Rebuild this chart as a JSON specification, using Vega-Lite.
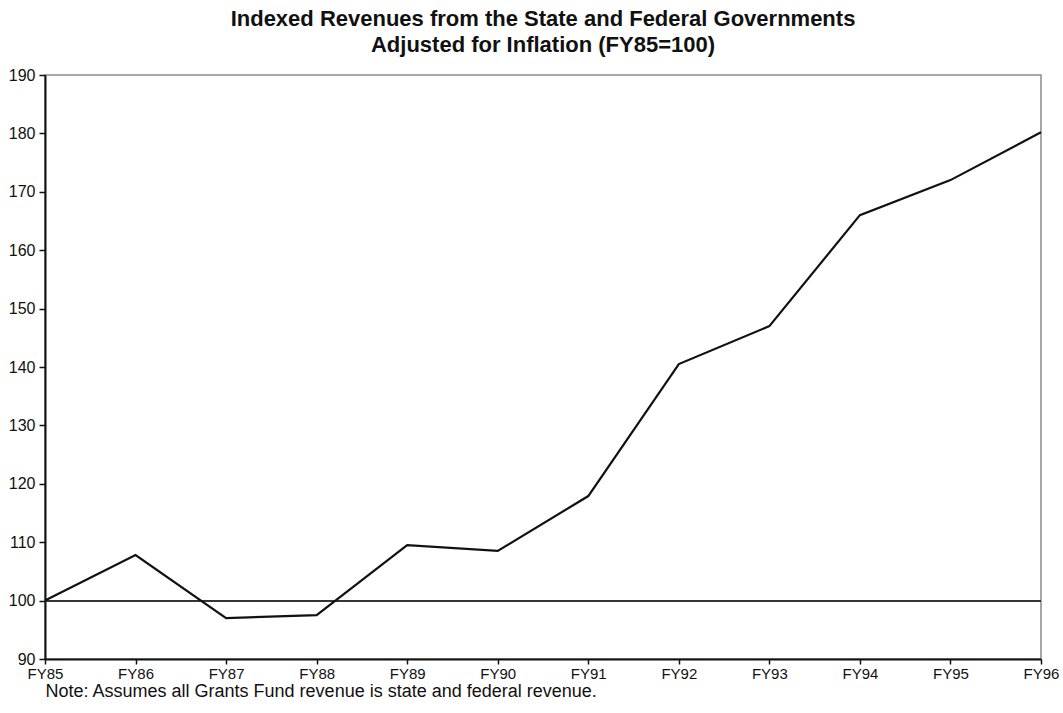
{
  "$schema": "https://vega.github.io/schema/vega-lite/v6.json",
  "width": 996,
  "height": 584,
  "autosize": {"type": "none"},
  "padding": {"left": 45, "top": 75, "right": 22, "bottom": 54},
  "background": "white",
  "config": {
    "font": "Liberation Sans",
    "view": {"stroke": "#8a8a8a", "strokeWidth": 1.5}
  },
  "title": {
    "text": ["Indexed Revenues from the State and Federal Governments", "Adjusted for Inflation (FY85=100)"],
    "anchor": "middle",
    "fontSize": 22,
    "fontWeight": "bold",
    "font": "Liberation Sans",
    "color": "#111",
    "lineHeight": 26,
    "offset": 10
  },
  "data": {
    "values": [
      {"year": "FY85", "index": 100.0},
      {"year": "FY86", "index": 107.8},
      {"year": "FY87", "index": 97.0},
      {"year": "FY88", "index": 97.5},
      {"year": "FY89", "index": 109.5},
      {"year": "FY90", "index": 108.5},
      {"year": "FY91", "index": 117.9},
      {"year": "FY92", "index": 140.5},
      {"year": "FY93", "index": 147.0},
      {"year": "FY94", "index": 166.0},
      {"year": "FY95", "index": 172.0},
      {"year": "FY96", "index": 180.2}
    ]
  },
  "layer": [
    {
      "mark": {"type": "rule", "color": "#333", "strokeWidth": 1.2},
      "encoding": {"y": {"datum": 100, "type": "quantitative"}}
    },
    {
      "mark": {"type": "line", "color": "#111", "strokeWidth": 2.2},
      "encoding": {
        "x": {
          "field": "year",
          "type": "ordinal",
          "sort": null,
          "scale": {"type": "point", "padding": 0},
          "axis": {
            "title": "Note: Assumes all Grants Fund revenue is state and federal revenue.",
            "titleAnchor": "start",
            "titleAlign": "left",
            "titleFontSize": 18,
            "titleFontWeight": "normal",
            "titleColor": "#111",
            "titlePadding": 1,
            "labelAngle": 0,
            "labelFontSize": 15,
            "labelColor": "#111",
            "labelPadding": 2,
            "domainColor": "#111",
            "domainWidth": 2,
            "tickColor": "#111",
            "tickSize": 5,
            "tickWidth": 1.5,
            "grid": false
          }
        },
        "y": {
          "field": "index",
          "type": "quantitative",
          "scale": {"domain": [90, 190], "nice": false, "zero": false},
          "axis": {
            "title": null,
            "values": [90, 100, 110, 120, 130, 140, 150, 160, 170, 180, 190],
            "labelFontSize": 16,
            "labelColor": "#111",
            "labelPadding": 4,
            "domainColor": "#111",
            "domainWidth": 2,
            "tickColor": "#111",
            "tickSize": 6,
            "tickWidth": 1.5,
            "grid": false
          }
        }
      }
    }
  ]
}
